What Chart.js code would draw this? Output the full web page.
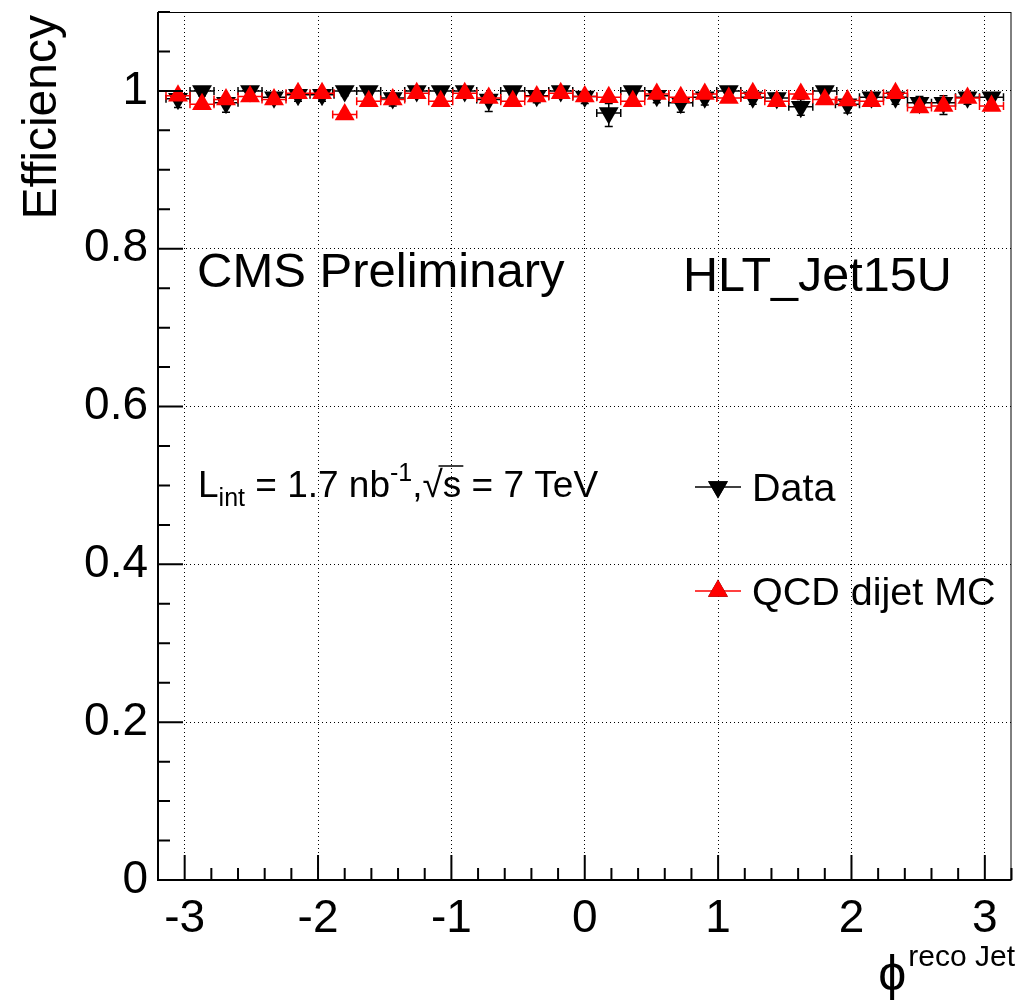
<!DOCTYPE html>
<html>
<head>
<meta charset="utf-8">
<script src="https://cdn.jsdelivr.net/npm/chart.js@4.4.0/dist/chart.umd.min.js"></script>
<style>
  body { margin: 0; background: #fff; }
  #wrap { width: 1023px; height: 1002px; }
</style>
</head>
<body>
<div id="wrap"><canvas id="chart" width="1023" height="1002"></canvas></div>
<script>
// phi bin centres, 35 bins between -pi and pi
var phiBins = [-3.05, -2.87, -2.69, -2.51, -2.33, -2.15, -1.97, -1.80, -1.62, -1.44,
               -1.26, -1.08, -0.90, -0.72, -0.54, -0.36, -0.18, 0.00, 0.18, 0.36,
               0.54, 0.72, 0.90, 1.08, 1.26, 1.44, 1.62, 1.80, 1.97, 2.15,
               2.33, 2.51, 2.69, 2.87, 3.05];
var binHalf = 0.09;

var dataEff = [0.990, 1.000, 0.985, 1.000, 0.992, 0.995, 0.995, 1.000, 1.000, 0.991,
               1.000, 1.000, 1.000, 0.989, 1.000, 0.994, 1.000, 0.993, 0.972, 1.000,
               0.994, 0.985, 0.992, 1.000, 0.992, 0.991, 0.980, 1.000, 0.983, 0.992,
               0.992, 0.985, 0.985, 0.992, 0.992];
var dataErrLo = [0.011, 0.006, 0.012, 0.006, 0.009, 0.008, 0.008, 0.006, 0.006, 0.010,
                 0.006, 0.006, 0.006, 0.015, 0.006, 0.009, 0.006, 0.009, 0.017, 0.006,
                 0.009, 0.012, 0.010, 0.006, 0.009, 0.010, 0.011, 0.006, 0.011, 0.009,
                 0.009, 0.012, 0.015, 0.009, 0.009];
var dataErrHi = [0.006, 0.000, 0.008, 0.000, 0.005, 0.004, 0.004, 0.000, 0.000, 0.006,
                 0.000, 0.000, 0.000, 0.008, 0.000, 0.004, 0.000, 0.005, 0.012, 0.000,
                 0.004, 0.008, 0.005, 0.000, 0.005, 0.006, 0.009, 0.000, 0.008, 0.005,
                 0.005, 0.008, 0.009, 0.005, 0.005];
var mcEff = [0.994, 0.983, 0.989, 0.993, 0.989, 0.997, 0.997, 0.970, 0.987, 0.989,
             0.997, 0.987, 0.997, 0.991, 0.987, 0.993, 0.997, 0.993, 0.992, 0.987,
             0.996, 0.992, 0.996, 0.991, 0.997, 0.987, 0.996, 0.989, 0.988, 0.987,
             0.997, 0.979, 0.981, 0.991, 0.981];
var mcErr = [0.004, 0.004, 0.004, 0.004, 0.004, 0.003, 0.003, 0.005, 0.004, 0.004,
             0.003, 0.004, 0.003, 0.004, 0.004, 0.004, 0.003, 0.004, 0.004, 0.004,
             0.003, 0.004, 0.003, 0.004, 0.003, 0.004, 0.003, 0.004, 0.004, 0.004,
             0.003, 0.005, 0.005, 0.004, 0.005];

var xTicks = [-3, -2, -1, 0, 1, 2, 3];
var yTicks = [0, 0.2, 0.4, 0.6, 0.8, 1];
var font = "'Liberation Sans', Arial, sans-serif";

function points(vals) {
    return phiBins.map(function (x, i) { return { x: x, y: vals[i] }; });
}

// error bars drawn just before each dataset's markers
var errorBars = {
    id: 'errorBars',
    beforeDatasetDraw: function (chart, args) {
        var ds = chart.data.datasets[args.index];
        var xs = chart.scales.x, ys = chart.scales.y, ctx = chart.ctx;
        ctx.save();
        ctx.strokeStyle = ds.borderColor;
        ctx.lineWidth = 1.5;
        ctx.beginPath();
        ds.data.forEach(function (p, i) {
            var px = xs.getPixelForValue(p.x), py = ys.getPixelForValue(p.y);
            var x1 = xs.getPixelForValue(p.x - binHalf), x2 = xs.getPixelForValue(p.x + binHalf);
            var yl = ys.getPixelForValue(p.y - ds.errLo[i]), yh = ys.getPixelForValue(p.y + ds.errHi[i]);
            ctx.moveTo(x1, py); ctx.lineTo(x2, py);
            ctx.moveTo(x1, py - 4); ctx.lineTo(x1, py + 4);
            ctx.moveTo(x2, py - 4); ctx.lineTo(x2, py + 4);
            ctx.moveTo(px, yh); ctx.lineTo(px, yl);
            ctx.moveTo(px - 4, yl); ctx.lineTo(px + 4, yl);
            if (ds.errHi[i] > 0) { ctx.moveTo(px - 4, yh); ctx.lineTo(px + 4, yh); }
        });
        ctx.stroke();
        ctx.restore();
    }
};

// frame, inward ticks, texts and legend
var decor = {
    id: 'decor',
    afterDraw: function (chart) {
        var ctx = chart.ctx, a = chart.chartArea;
        var xs = chart.scales.x, ys = chart.scales.y;
        ctx.save();
        ctx.strokeStyle = '#000';
        ctx.lineWidth = 1;
        ctx.strokeRect(a.left + 0.5, a.top + 0.5, a.right - a.left - 1, a.bottom - a.top - 1);
        ctx.lineWidth = 2;
        ctx.beginPath();
        ctx.moveTo(a.left, a.top); ctx.lineTo(a.left, a.bottom); ctx.lineTo(a.right, a.bottom);
        // y ticks every 0.05
        for (var k = 0; k <= 22; k++) {
            var v = k * 0.05;
            var py = ys.getPixelForValue(v);
            var len = (k % 4 === 0) ? 25 : 12;
            ctx.moveTo(a.left, py); ctx.lineTo(a.left + len, py);
        }
        // x ticks every 0.2
        for (var j = -16; j <= 16; j++) {
            var vx = j * 0.2;
            var px = xs.getPixelForValue(vx);
            var l2 = (j % 5 === 0) ? 25 : 12;
            ctx.moveTo(px, a.bottom); ctx.lineTo(px, a.bottom - l2);
        }
        ctx.stroke();

        ctx.fillStyle = '#000';
        ctx.textBaseline = 'alphabetic';
        ctx.textAlign = 'left';
        ctx.font = '49px ' + font;
        ctx.fillText('CMS Preliminary', 197, 287);
        ctx.font = '48.5px ' + font;
        ctx.fillText('HLT_Jet15U', 683, 291);

        // L_int line
        var x = 198, base = 497;
        ctx.font = '37px ' + font;
        ctx.fillText('L', x, base); x += ctx.measureText('L').width;
        ctx.font = '25px ' + font;
        ctx.fillText('int', x, base + 9); x += ctx.measureText('int').width;
        ctx.font = '37px ' + font;
        ctx.fillText(' = 1.7 nb', x, base); x += ctx.measureText(' = 1.7 nb').width;
        ctx.font = '25px ' + font;
        ctx.fillText('-1', x, base - 16); x += ctx.measureText('-1').width;
        ctx.font = '37px ' + font;
        ctx.fillText(',', x, base); x += ctx.measureText(',').width;
        var sx = x;
        ctx.fillText('\u221A', x, base); x += ctx.measureText('\u221A').width;
        ctx.fillText('s', x, base); x += ctx.measureText('s').width;
        ctx.lineWidth = 1.5;
        ctx.beginPath(); ctx.moveTo(sx + 16, base - 31); ctx.lineTo(x + 2, base - 31); ctx.stroke();
        ctx.fillText(' = 7 TeV', x, base);

        // legend
        var items = [chart.data.datasets[1], chart.data.datasets[0]];
        var ly = [487, 591];
        items.forEach(function (ds, i) {
            ctx.strokeStyle = ds.borderColor;
            ctx.lineWidth = 1.5;
            ctx.beginPath(); ctx.moveTo(695, ly[i]); ctx.lineTo(741, ly[i]); ctx.stroke();
            Chart.helpers.drawPoint(ctx, {
                pointStyle: 'triangle', radius: ds.pointRadius, rotation: ds.pointRotation,
                borderWidth: 0
            }, 718, ly[i]);
            ctx.fillStyle = ds.backgroundColor;
            ctx.fill();
            ctx.fillStyle = '#000';
            ctx.font = '39.5px ' + font;
            ctx.fillText(ds.label, 752, ly[i] + 14);
        });

        // axis titles
        ctx.font = '48px ' + font;
        ctx.save();
        ctx.translate(56, 15);
        ctx.rotate(-Math.PI / 2);
        ctx.textAlign = 'right';
        ctx.fillText('Efficiency', 0, 0);
        ctx.restore();
        ctx.textAlign = 'right';
        ctx.font = '30px ' + font;
        ctx.fillText('reco Jet', 1015, 966);
        var w = ctx.measureText('reco Jet').width;
        ctx.font = '50px ' + font;
        ctx.fillText('\u03D5', 1015 - w - 2, 990);
        ctx.restore();
    }
};

new Chart(document.getElementById('chart').getContext('2d'), {
    type: 'scatter',
    data: {
        datasets: [{
            label: 'QCD dijet MC',
            data: points(mcEff),
            errLo: mcErr,
            errHi: mcErr,
            order: 1,
            pointStyle: 'triangle',
            pointRotation: 0,
            pointRadius: 11.5,
            pointHoverRadius: 11.5,
            borderWidth: 0,
            borderColor: '#ff0000',
            backgroundColor: '#ff0000'
        }, {
            label: 'Data',
            data: points(dataEff),
            errLo: dataErrLo,
            errHi: dataErrHi,
            order: 2,
            pointStyle: 'triangle',
            pointRotation: 180,
            pointRadius: 11.5,
            pointHoverRadius: 11.5,
            borderWidth: 0,
            borderColor: '#000000',
            backgroundColor: '#000000'
        }]
    },
    options: {
        responsive: false,
        animation: false,
        devicePixelRatio: 1,
        layout: { padding: { top: 12, right: 7, left: 0, bottom: 0 } },
        plugins: { legend: { display: false }, tooltip: { enabled: false } },
        scales: {
            x: {
                type: 'linear', min: -3.2, max: 3.2,
                afterBuildTicks: function (axis) { axis.ticks = xTicks.map(function (v) { return { value: v }; }); },
                afterFit: function (axis) { axis.height = 122; axis.paddingLeft = 0; axis.paddingRight = 0; },
                grid: { color: '#000', lineWidth: 1, drawTicks: false },
                border: { display: false, dash: [1, 3] },
                ticks: { color: '#000', padding: 12, maxRotation: 0, font: { size: 46, family: font },
                         callback: function (v) { return String(v); } }
            },
            y: {
                type: 'linear', min: 0, max: 1.1,
                afterBuildTicks: function (axis) { axis.ticks = yTicks.map(function (v) { return { value: v }; }); },
                afterFit: function (axis) { axis.width = 158; axis.paddingTop = 0; axis.paddingBottom = 0; },
                grid: { color: '#000', lineWidth: 1, drawTicks: false },
                border: { display: false, dash: [1, 3] },
                ticks: { color: '#000', padding: 10, font: { size: 46, family: font },
                         callback: function (v) { return String(v); } }
            }
        }
    },
    plugins: [errorBars, decor]
});
</script>
</body>
</html>
